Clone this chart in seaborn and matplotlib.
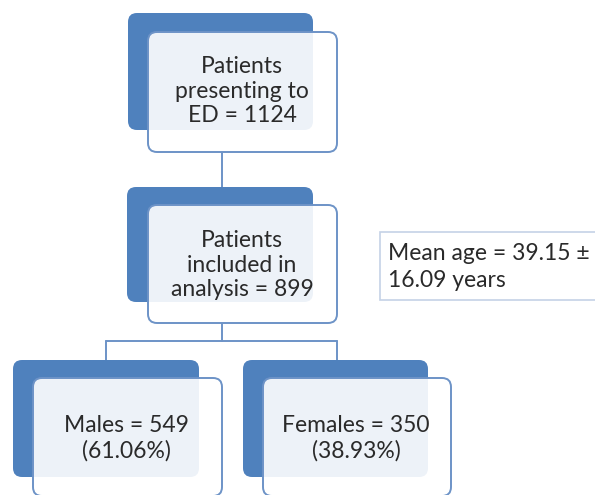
import matplotlib
matplotlib.use("Agg")
import matplotlib.pyplot as plt
from matplotlib.patches import FancyBboxPatch
import seaborn as sns

sns.set_theme(style="white")
plt.rcParams['font.family'] = ['Lato', 'DejaVu Sans']

# flow chart numbers
total_ed = 1124
included = 899
males = 549
females = 350
male_pct = 61.06
female_pct = 38.93
mean_age = 39.15
sd_age = 16.09

box_texts = [
    "Patients\npresenting to\nED = %d" % total_ed,
    "Patients\nincluded in\nanalysis = %d" % included,
    "Males = %d\n(%.2f%%)" % (males, male_pct),
    "Females = %d\n(%.2f%%)" % (females, female_pct),
]
note_text = "Mean age = %.2f ±\n%.2f years" % (mean_age, sd_age)

# layout (pixel units, y goes down)
back_boxes = [(128, 13, 185, 117), (127, 187, 186, 115), (13, 360, 186, 117), (243, 360, 185, 117)]
front_boxes = [(148, 32, 189, 120), (148, 205, 189, 118), (33, 378, 189, 118), (263, 378, 188, 118)]
text_pos = [(242, 91), (242, 265), (126, 438), (356, 438)]

blue = "#4f81bd"
edge = "#6d93c7"
txt = "#2a2a2a"

fig = plt.figure(figsize=(5.95, 4.95), dpi=100)
ax = fig.add_axes([0, 0, 1, 1])
ax.set_xlim(0, 595)
ax.set_ylim(495, 0)
ax.axis("off")

# connectors
ax.plot([222, 222], [152, 205], color=edge, lw=1.4, zorder=1)
ax.plot([222, 222], [323, 341], color=edge, lw=1.4, zorder=1)
ax.plot([106, 337], [341, 341], color=edge, lw=1.4, zorder=1)
ax.plot([106, 106], [341, 360], color=edge, lw=1.4, zorder=1)
ax.plot([337, 337], [341, 360], color=edge, lw=1.4, zorder=1)

for (x, y, w, h) in back_boxes:
    ax.add_patch(FancyBboxPatch((x, y), w, h, boxstyle="round,pad=0,rounding_size=9",
                                facecolor=blue, edgecolor="none", zorder=2))
for (x, y, w, h) in front_boxes:
    ax.add_patch(FancyBboxPatch((x, y), w, h, boxstyle="round,pad=0,rounding_size=9",
                                facecolor="white", alpha=0.9, edgecolor="none", zorder=3))
    ax.add_patch(FancyBboxPatch((x, y), w, h, boxstyle="round,pad=0,rounding_size=9",
                                facecolor="none", edgecolor=edge, lw=1.4, zorder=4))

for (cx, cy), t in zip(text_pos, box_texts):
    ax.text(cx, cy, t, ha="center", va="center", fontsize=16.5, color=txt,
            linespacing=1.22, zorder=5)

# mean age note
ax.add_patch(plt.Rectangle((380, 232), 220, 68, facecolor="white", edgecolor="#c5d2e6",
                           lw=1.2, zorder=2))
ax.text(388, 267, note_text, ha="left", va="center", fontsize=16.5, color=txt,
        linespacing=1.3, zorder=5)

fig.savefig("out.png", dpi=100)
